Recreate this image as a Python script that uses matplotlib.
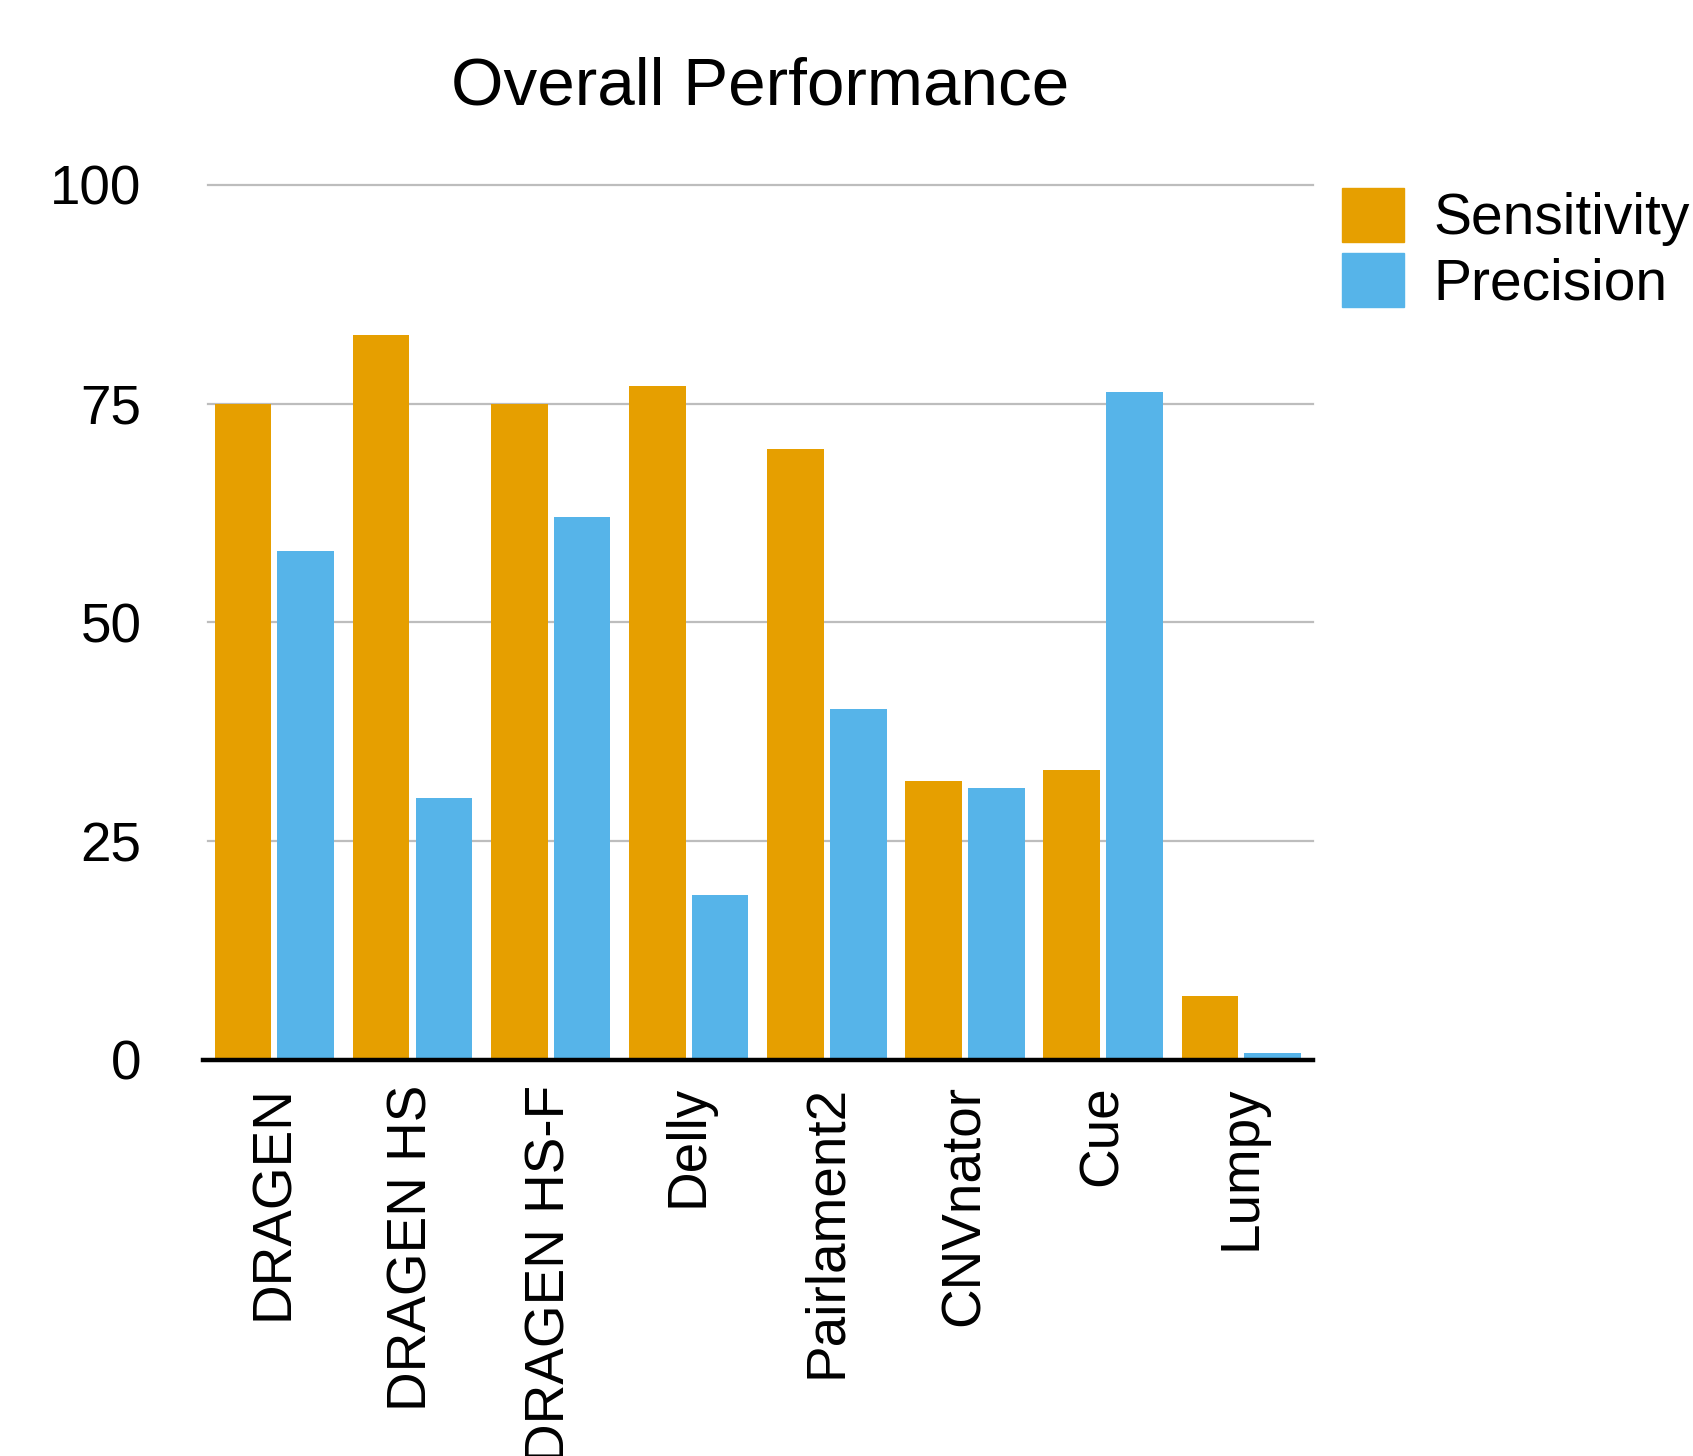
import matplotlib
matplotlib.use("Agg")
import matplotlib.pyplot as plt
import numpy as np
from matplotlib.patches import Patch

plt.rcParams['font.family'] = ['Liberation Sans', 'DejaVu Sans']

categories = ["DRAGEN", "DRAGEN HS", "DRAGEN HS-F", "Delly", "Pairlament2", "CNVnator", "Cue", "Lumpy"]
sensitivity = [75.0, 82.8, 75.0, 77.0, 69.8, 31.9, 33.1, 7.3]
precision = [58.2, 29.9, 62.0, 18.8, 40.1, 31.1, 76.3, 0.8]
yticks = [0, 25, 50, 75, 100]

c_sens = "#E69F00"
c_prec = "#56B4E9"

fig = plt.figure(figsize=(16.93, 14.56), dpi=100)
ax = fig.add_axes([0.1229, 0.272, 0.6527, 0.601])

x = np.arange(len(categories))
w = 0.41
ax.bar(x - 0.227, sensitivity, width=w, color=c_sens, label="Sensitivity", zorder=2)
ax.bar(x + 0.227, precision, width=w, color=c_prec, label="Precision", zorder=2)

ax.set_xlim(-0.48, 7.52)
ax.set_ylim(0, 100)
ax.set_yticks(yticks)
ax.set_yticklabels([str(t) for t in yticks])
for t in yticks[1:]:
    ax.axhline(t, color="#bdbdbd", lw=1.6, zorder=1, clip_on=False)
ax.axhline(0, xmin=-0.005, xmax=1.0, color="black", lw=3.2, zorder=3, clip_on=False)

for s in ax.spines.values():
    s.set_visible(False)
ax.tick_params(axis='y', length=0, pad=48, labelsize=39.5)
ax.tick_params(axis='x', length=0, pad=18, labelsize=39.5)
ax.set_xticks(x)
ax.set_xticklabels(categories, rotation=90, va='top', ha='center')

ax.set_title("Overall Performance", fontsize=48.5, pad=58)

handles = [Patch(color=c_sens), Patch(color=c_prec)]
fig.legend(handles, ["Sensitivity", "Precision"], loc='upper left',
           bbox_to_anchor=(1342/1693, 1 - 188/1456), frameon=False,
           fontsize=41, handlelength=1.08, handleheight=1.08,
           handletextpad=0.52, labelspacing=0.12, borderpad=0, borderaxespad=0)

fig.savefig("out.png", dpi=100)
